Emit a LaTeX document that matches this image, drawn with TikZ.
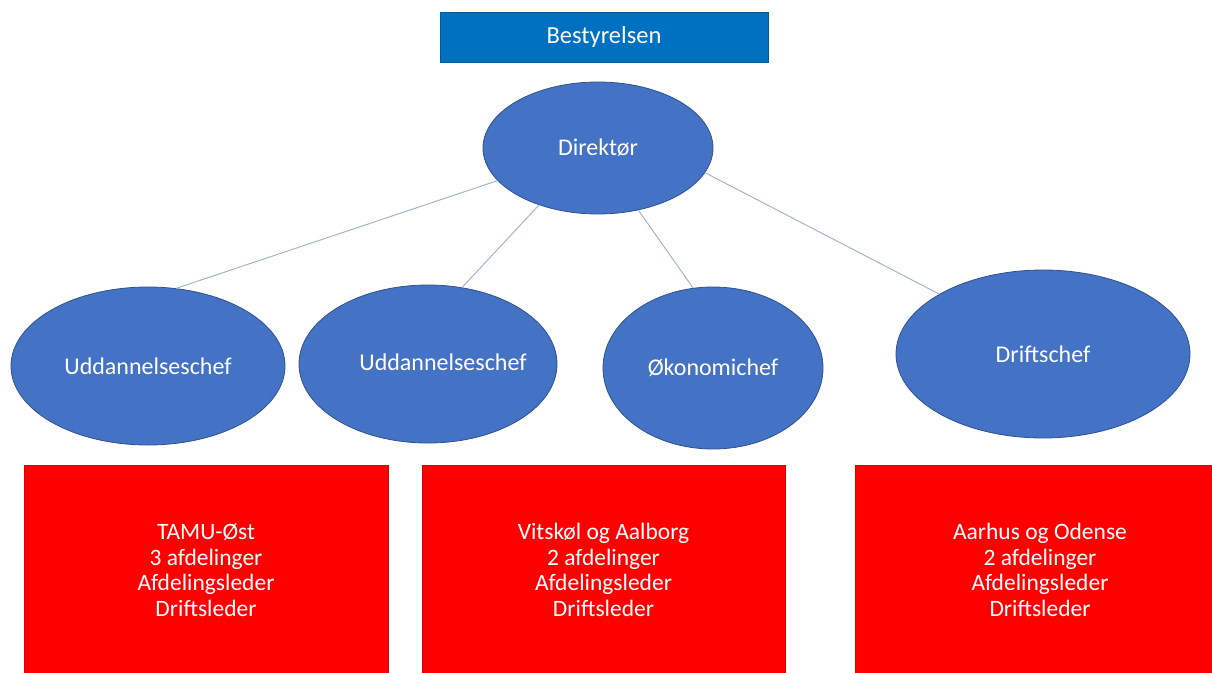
\documentclass[tikz,border=0pt]{standalone}
\usepackage{fontspec}
\setmainfont{Carlito}
\usetikzlibrary{shapes.geometric}
\definecolor{boardblue}{RGB}{0,112,192}
\definecolor{ellblue}{RGB}{68,114,196}
\definecolor{ellborder}{RGB}{47,82,143}
\definecolor{linkcol}{RGB}{165,180,205}
\definecolor{boxred}{RGB}{255,0,0}
\tikzset{
  board/.style={rectangle, fill=boardblue, draw=boardblue!80!black, line width=0.6pt, text=white,
    minimum width=328pt, minimum height=50pt, inner sep=0pt, font=\fontsize{24.5}{28}\selectfont},
  role/.style={ellipse, fill=ellblue, draw=ellborder, line width=0.8pt, text=white, inner sep=0pt,
    font=\fontsize{24}{28}\selectfont},
  unit/.style={rectangle, fill=boxred, draw=boxred!85!black, line width=0.6pt, text=white, inner sep=0pt,
    align=center, font=\fontsize{23.5}{25.5}\selectfont},
  link/.style={draw=linkcol, line width=1pt}
}
\begin{document}
\begin{tikzpicture}[x=1pt,y=-1pt]
\useasboundingbox (0,0) rectangle (1212,672);
\clip (0,0) rectangle (1212,672);
\node[board] (best) at (604,37) {Bestyrelsen};
\node[role, minimum width=230pt, minimum height=132pt] (dir) at (598,148) {Direktør};
\node[role, minimum width=274pt, minimum height=158pt] (u1) at (148,366) {Uddannelseschef};
\node[role, minimum width=258pt, minimum height=158pt] (u2) at (428,364) {\makebox[0pt][c]{\hspace*{30pt}\raisebox{3pt}{Uddannelseschef}}};
\node[role, minimum width=220pt, minimum height=162pt] (oek) at (713,368) {Økonomichef};
\node[role, minimum width=294pt, minimum height=168pt] (drift) at (1043,354) {Driftschef};
\draw[link] (dir.198) -- (u1.70);
\draw[link] (dir.224) -- (u2.66);
\draw[link] (dir.303) -- (oek.104);
\draw[link] (dir.347) -- (drift.150);
\node[unit, minimum width=364pt, minimum height=210pt] (b1) at (206,570) {TAMU-Øst\\3 afdelinger\\Afdelingsleder\\Driftsleder};
\node[unit, minimum width=363pt, minimum height=210pt] (b2) at (603.5,570) {Vitskøl og Aalborg\\2 afdelinger\\Afdelingsleder\\Driftsleder};
\node[unit, minimum width=370pt, minimum height=210pt] (b3) at (1040,570) {Aarhus og Odense\\2 afdelinger\\Afdelingsleder\\Driftsleder};
\end{tikzpicture}
\end{document}
